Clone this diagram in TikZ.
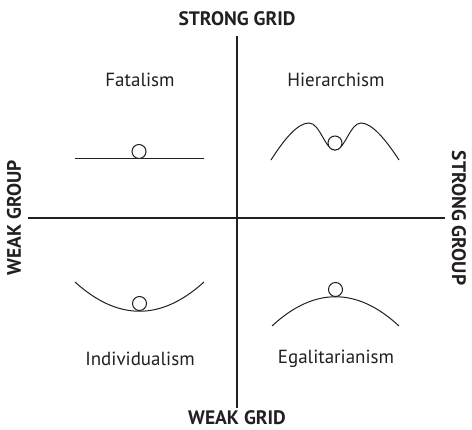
\documentclass[tikz,border=0pt]{standalone}
\usepackage{fontspec}
\setmainfont{PT Sans}
\usepackage{xcolor}
\usetikzlibrary{positioning}
\definecolor{inkdraw}{HTML}{231F20}
\tikzset{
  axislab/.style={font=\fontsize{19.5}{22}\selectfont\bfseries, text=inkdraw, inner sep=0pt},
  quadlab/.style={font=\fontsize{19}{22}\selectfont, text=inkdraw, inner sep=0pt},
  axisline/.style={draw=inkdraw, line width=2pt},
  landscape/.style={draw=inkdraw, line width=1pt},
  ball/.style={draw=inkdraw, fill=white, line width=1pt},
}
\begin{document}
\begin{tikzpicture}[x=1pt, y=-1pt]
  \useasboundingbox (0,0) rectangle (472,430);
  % axes
  \coordinate (gtop) at (237,36);
  \coordinate (gbot) at (237,408);
  \coordinate (wleft) at (28,218);
  \coordinate (wright) at (445,218);
  \draw[axisline] (gtop) -- (gbot);
  \draw[axisline] (wleft) -- (wright);
  \node[axislab] (sgrid) at (237,19) {STRONG GRID};
  \node[axislab] (wgrid) at (237,418) {WEAK GRID};
  \node[axislab, rotate=90] (wgroup) at (14,218) {WEAK GROUP};
  \node[axislab, rotate=-90] (sgroup) at (459,218) {STRONG GROUP};
  % quadrant names
  \node[quadlab] (fat) at (140,80) {Fatalism};
  \node[quadlab] (hier) at (336,80) {Hierarchism};
  \node[quadlab] (indiv) at (140,359) {Individualism};
  \node[quadlab] (egal) at (336,359) {Egalitarianism};
  % landscapes with balls
  \draw[landscape] (75,159) -- (204,159);
  \draw[ball] (139,151.5) circle (7);
  \draw[landscape] (271,160) .. controls (285,138) and (298,123) .. (309,123)
    .. controls (320,123) and (325,150) .. (335,150)
    .. controls (345,150) and (350,123) .. (361,123)
    .. controls (372,123) and (386,140) .. (399,160);
  \draw[ball] (335,143) circle (7);
  \draw[landscape] (75,282) .. controls (118,321) and (161,321) .. (204,282);
  \draw[ball] (139.5,303.5) circle (7);
  \draw[landscape] (272,326) .. controls (314,287) and (357,287) .. (399,326);
  \draw[ball] (335.5,289.5) circle (7);
\end{tikzpicture}
\end{document}
